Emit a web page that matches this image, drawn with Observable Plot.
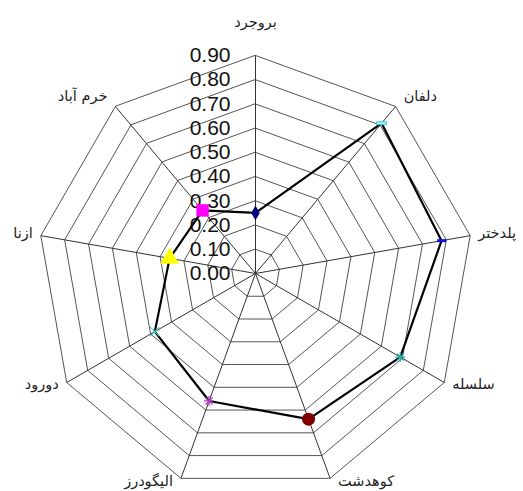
<!DOCTYPE html>
<html>
<head>
<meta charset="utf-8">
<script src="https://cdn.jsdelivr.net/npm/d3@7"></script>
<script src="https://cdn.jsdelivr.net/npm/@observablehq/plot@0.6"></script>
<style>
  html, body { margin: 0; padding: 0; background: #fff; overflow: hidden; }
  svg { display: block; }
</style>
</head>
<body>
<div id="chart"></div>
<script>
// ---- data ----
const categories = ["بروجرد", "دلفان", "پلدختر", "سلسله", "کوهدشت", "الیگودرز", "دورود", "ازنا", "خرم آباد"];
const values = [0.25, 0.81, 0.78, 0.69, 0.64, 0.56, 0.48, 0.36, 0.34];
const tickValues = [0.00, 0.10, 0.20, 0.30, 0.40, 0.50, 0.60, 0.70, 0.80, 0.90];
const tickLabels = ["0.00", "0.10", "0.20", "0.30", "0.40", "0.50", "0.60", "0.70", "0.80", "0.90"];
const markerKinds = ["diamond", "dashOutline", "dash", "asterisk", "circle", "asterisk", "cross", "triangle", "square"];
const markerColors = ["#000080", "#33ccdd", "#1010ee", "#22aaaa", "#800000", "#b040c0", "#44cccc", "#ffff00", "#ff00ff"];

// ---- geometry helpers ----
const W = 523, H = 491, cx = 255, cy = 273, R = 218;
const n = categories.length;
const maxV = tickValues[tickValues.length - 1];
const k = maxV / R; // data units per pixel
const ang = i => (i * 2 * Math.PI) / n;
const px = (i, r) => r * Math.sin(ang(i));
const py = (i, r) => r * Math.cos(ang(i));

// rings
const rings = [];
tickValues.filter(t => t > 0).forEach(t => {
  categories.forEach((c, i) => rings.push({level: t, x: px(i, t), y: py(i, t)}));
});
// spokes
const spokes = categories.map((c, i) => ({x1: 0, y1: 0, x2: px(i, maxV), y2: py(i, maxV)}));
// category labels: just outside each outer vertex, anchored by side (spreadsheet style)
const labels = categories.map((c, i) => {
  const s = Math.sin(ang(i)), co = Math.cos(ang(i));
  const side = Math.abs(s) < 0.01 ? 0 : Math.sign(s);
  const offX = side * 8;
  const offY = side === 0 ? 33 : (co > 0 ? 13 * co : 3 * co);
  return {
    name: c,
    x: px(i, maxV) + offX * k,
    y: py(i, maxV) + offY * k,
    anchor: side > 0 ? "start" : side < 0 ? "end" : "middle"
  };
});
// data points
const pts = categories.map((c, i) => ({name: c, v: values[i], x: px(i, values[i]), y: py(i, values[i]), kind: markerKinds[i], color: markerColors[i]}));
const ticksData = tickValues.map((t, j) => ({y: t, label: tickLabels[j]}));

// custom symbols
const sym = {
  dash: {draw(ctx) { ctx.rect(-4.5, -1.5, 9, 3); }},
  dashOutline: {draw(ctx) { ctx.rect(-5, -1.5, 10, 3); }},
  asterisk: {draw(ctx) {
    const s = 5;
    ctx.moveTo(-s, 0); ctx.lineTo(s, 0);
    ctx.moveTo(0, -s); ctx.lineTo(0, s);
    ctx.moveTo(-s*0.7, -s*0.7); ctx.lineTo(s*0.7, s*0.7);
    ctx.moveTo(-s*0.7, s*0.7); ctx.lineTo(s*0.7, -s*0.7);
  }},
  cross: {draw(ctx) {
    const s = 4.5;
    ctx.moveTo(-s, -s); ctx.lineTo(s, s);
    ctx.moveTo(-s, s); ctx.lineTo(s, -s);
  }}
};

const markerMarks = pts.map(p => {
  switch (p.kind) {
    case "diamond": return Plot.dot([p], {x: "x", y: "y", symbol: "diamond", r: 4.5, fill: p.color, stroke: "none"});
    case "circle": return Plot.dot([p], {x: "x", y: "y", symbol: "circle", r: 6.5, fill: p.color, stroke: "none"});
    case "triangle": return Plot.dot([p], {x: "x", y: "y", symbol: "triangle", r: 7, fill: p.color, stroke: "none"});
    case "square": return Plot.dot([p], {x: "x", y: "y", symbol: "square", r: 7, fill: p.color, stroke: "none"});
    case "dash": return Plot.dot([p], {x: "x", y: "y", symbol: sym.dash, r: 5, fill: p.color, stroke: "none"});
    case "dashOutline": return Plot.dot([p], {x: "x", y: "y", symbol: sym.dashOutline, r: 5, fill: "#aaf0ff", stroke: p.color, strokeWidth: 1});
    case "asterisk": return Plot.dot([p], {x: "x", y: "y", symbol: sym.asterisk, r: 5, fill: "none", stroke: p.color, strokeWidth: 1.2});
    case "cross": return Plot.dot([p], {x: "x", y: "y", symbol: sym.cross, r: 5, fill: "none", stroke: p.color, strokeWidth: 1.2});
  }
});

const labelFont = {fontSize: 14.5, fill: "#222", fontFamily: "DejaVu Sans, sans-serif"};

const chart = Plot.plot({
  width: W,
  height: H,
  margin: 0,
  style: {background: "#fff", overflow: "visible"},
  x: {domain: [-cx * k, (W - cx) * k], axis: null},
  y: {domain: [-(H - cy) * k, cy * k], axis: null},
  marks: [
    Plot.line(rings, {x: "x", y: "y", z: "level", curve: "linear-closed", stroke: "#555", strokeWidth: 1}),
    Plot.link(spokes, {x1: "x1", y1: "y1", x2: "x2", y2: "y2", stroke: "#333", strokeWidth: 1}),
    Plot.text(ticksData, {x: 0, y: "y", text: "label", dx: -25, textAnchor: "end", fontSize: 21, fill: "#111", fontFamily: "Liberation Sans, Arial, sans-serif"}),
    Plot.line(pts, {x: "x", y: "y", curve: "linear-closed", stroke: "#000", strokeWidth: 2.2}),
    ...markerMarks,
    Plot.text(labels.filter(d => d.anchor === "start"), {x: "x", y: "y", text: "name", textAnchor: "start", ...labelFont}),
    Plot.text(labels.filter(d => d.anchor === "end"), {x: "x", y: "y", text: "name", textAnchor: "end", ...labelFont}),
    Plot.text(labels.filter(d => d.anchor === "middle"), {x: "x", y: "y", text: "name", textAnchor: "middle", ...labelFont})
  ]
});
document.getElementById("chart").appendChild(chart);
</script>
</body>
</html>
